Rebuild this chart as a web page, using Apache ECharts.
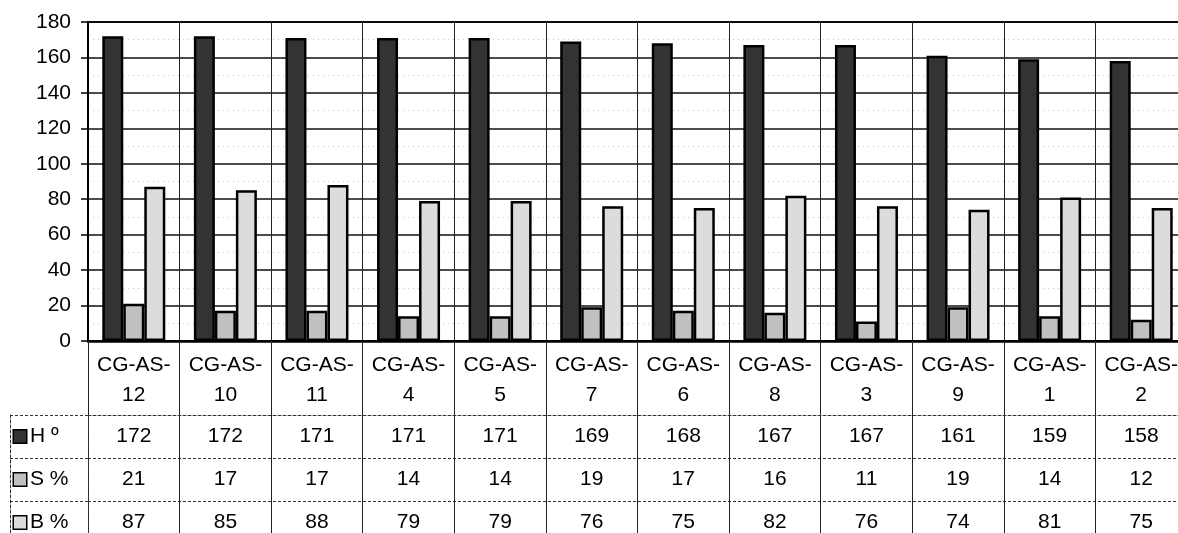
<!DOCTYPE html>
<html>
<head>
<meta charset="utf-8">
<title>CG-AS color</title>
<script src="https://cdn.jsdelivr.net/npm/echarts@6/dist/echarts.min.js"></script>
<style>
  html, body { margin: 0; padding: 0; background: #fff; overflow: hidden; }
  /* The chart canvas runs a little past the window on the right and bottom,
     so the last column and the last table row are cut by the page edge. */
  #chart { width: 1190px; height: 560px; }
</style>
</head>
<body>
<div id="chart"></div>
<script>
// Samples in plotting order
const categories = ['CG-AS-12', 'CG-AS-10', 'CG-AS-11', 'CG-AS-4', 'CG-AS-5', 'CG-AS-7',
                    'CG-AS-6', 'CG-AS-8', 'CG-AS-3', 'CG-AS-9', 'CG-AS-1', 'CG-AS-2'];
// Hue (degrees), saturation (%) and brightness (%)
const hueValues = [172, 172, 171, 171, 171, 169, 168, 167, 167, 161, 159, 158];
const satValues = [21, 17, 17, 14, 14, 19, 17, 16, 11, 19, 14, 12];
const briValues = [87, 85, 88, 79, 79, 76, 75, 82, 76, 74, 81, 75];
const seriesNames = ['H º', 'S %', 'B %'];
const yTicks = { min: 0, max: 180, interval: 20 };

const fills = ['#333333', '#c0c0c0', '#dcdcdc'];
const rows = [hueValues, satValues, briValues];
const font = 'Liberation Sans, Arial, sans-serif';

// Data-table cells: [column, row, value]
const cells = [];
rows.forEach((vals, r) => vals.forEach((v, i) => cells.push([i, r, v])));

const barSeries = seriesNames.map((name, k) => ({
  name: name,
  type: 'bar',
  xAxisIndex: 0,
  yAxisIndex: 0,
  data: rows[k],
  barWidth: 21,
  barGap: '0%',
  itemStyle: { color: fills[k], borderColor: '#000', borderWidth: 2.5 }
}));

const keyRich = {};
['k0', 'k1', 'k2'].forEach((key, k) => {
  keyRich[key] = { width: 12, height: 12, backgroundColor: fills[k], borderColor: '#000', borderWidth: 1.5 };
});
keyRich.t = { fontSize: 21, fontFamily: font, color: '#000', padding: [0, 0, 0, 4] };

const tableLine = { color: '#333', width: 1, type: [3, 2] };

const chart = echarts.init(document.getElementById('chart'));
chart.setOption({
  animation: false,
  backgroundColor: '#fff',
  grid: [
    { left: 88, right: 3, top: 22, bottom: 219, show: true, borderColor: '#000', borderWidth: 2, backgroundColor: '#fff' },
    { left: 88, right: 3, top: 415, height: 129 }
  ],
  xAxis: [
    {
      type: 'category', gridIndex: 0, data: categories,
      axisLine: { show: true, lineStyle: { color: '#000', width: 2.5 } },
      axisTick: { show: true, interval: 0, length: 74, lineStyle: { color: '#222', width: 1 } },
      axisLabel: {
        interval: 0, margin: 9, fontSize: 21, lineHeight: 30, fontFamily: font, color: '#000',
        formatter: v => v.replace('CG-AS-', 'CG-AS-\n')
      },
      splitLine: { show: true, interval: 0, lineStyle: { color: '#222', width: 1 } }
    },
    {
      type: 'category', gridIndex: 1, data: categories, position: 'top',
      axisLine: { show: true, lineStyle: tableLine },
      axisTick: { show: false },
      axisLabel: { show: false },
      splitLine: { show: true, interval: 0, lineStyle: { color: '#222', width: 1 } }
    }
  ],
  yAxis: [
    {
      type: 'value', gridIndex: 0, min: yTicks.min, max: yTicks.max, interval: yTicks.interval,
      axisLine: { show: true, lineStyle: { color: '#000', width: 2 } },
      axisTick: { show: true, length: 7, lineStyle: { color: '#000', width: 1.5 } },
      axisLabel: { fontSize: 21, fontFamily: font, color: '#000', margin: 17 },
      splitLine: { show: true, lineStyle: { color: '#111', width: 1.5 } },
      minorTick: { show: false, splitNumber: 2 },
      minorSplitLine: { show: true, lineStyle: { color: '#c4c4c4', width: 1, type: [1, 4] } }
    },
    {
      type: 'category', gridIndex: 1, data: seriesNames, inverse: true,
      axisLine: { show: true, lineStyle: tableLine },
      axisTick: { show: true, interval: 0, length: 78, lineStyle: tableLine },
      axisLabel: {
        align: 'left', margin: 74, interval: 0,
        formatter: (v, i) => '{k' + i + '|}{t|' + v + '}',
        rich: keyRich
      },
      splitLine: { show: true, interval: 0, lineStyle: tableLine }
    },
    {
      type: 'category', gridIndex: 1, data: seriesNames, inverse: true, position: 'left', offset: 78,
      axisLine: { show: true, lineStyle: tableLine },
      axisTick: { show: false },
      axisLabel: { show: false },
      splitLine: { show: false }
    }
  ],
  series: barSeries.concat([{
    name: 'tabla',
    type: 'scatter',
    xAxisIndex: 1,
    yAxisIndex: 1,
    data: cells,
    symbolSize: 2,
    itemStyle: { color: 'rgba(0,0,0,0)' },
    label: {
      show: true, position: 'inside', opacity: 1,
      fontSize: 21, fontFamily: font, color: '#000',
      textBorderWidth: 0,
      formatter: p => String(p.value[2])
    }
  }])
});
</script>
</body>
</html>
